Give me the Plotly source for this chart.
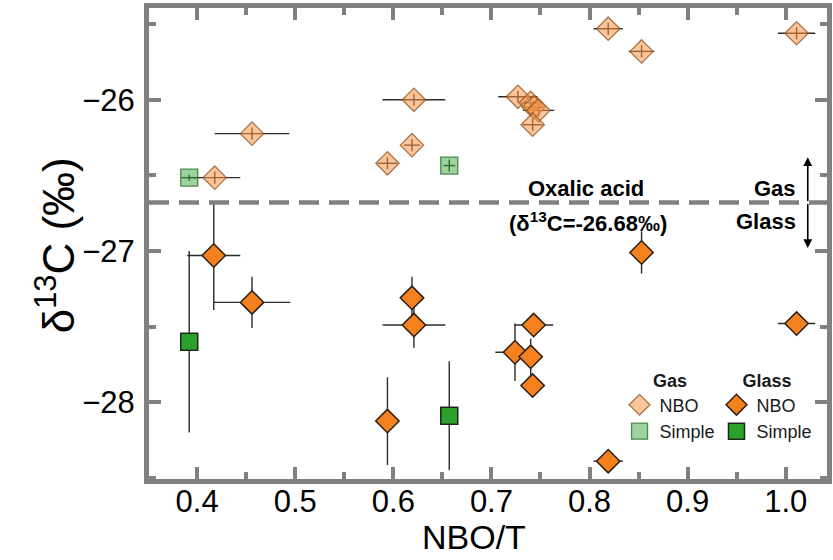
import plotly.graph_objects as go

# ---- data -------------------------------------------------------------
# Gas phase, NBO-based
gas_nbo_x = [0.418, 0.456, 0.621, 0.619, 0.594, 0.727, 0.740, 0.743, 0.748, 0.742, 0.819, 0.853, 1.011]
gas_nbo_y = [-26.515, -26.224, -26.00, -26.30, -26.42, -25.98, -26.02, -26.05, -26.07, -26.165, -25.53, -25.68, -25.56]
gas_nbo_xerr = [0.026, 0.038, 0.032, 0.008, 0.010, 0.020, 0.010, 0.010, 0.016, 0.010, 0.015, 0.013, 0.019]
gas_nbo_yerr = [0.04, 0.04, 0.04, 0.04, 0.04, 0.04, 0.04, 0.04, 0.04, 0.04, 0.04, 0.04, 0.04]

# Gas phase, simple composition
gas_simple_x = [0.392, 0.657]
gas_simple_y = [-26.515, -26.435]
gas_simple_xerr = [0.008, 0.006]
gas_simple_yerr = [0.02, 0.04]

# Glass, NBO-based
glass_nbo_x = [0.417, 0.456, 0.619, 0.621, 0.594, 0.853, 0.743, 0.724, 0.740, 0.742, 0.819, 1.011]
glass_nbo_y = [-27.03, -27.34, -27.31, -27.49, -28.125, -27.01, -27.49, -27.67, -27.70, -27.89, -28.39, -27.48]
glass_nbo_xerr = [0.027, 0.039, 0.010, 0.032, 0.010, 0.010, 0.020, 0.020, 0.010, 0.010, 0.015, 0.019]
glass_nbo_yerr = [0.36, 0.17, 0.14, 0.15, 0.29, 0.14, 0.06, 0.19, 0.12, 0.05, 0.04, 0.04]

# Glass, simple composition
glass_simple_x = [0.392, 0.657]
glass_simple_y = [-27.60, -28.09]
glass_simple_xerr = [0.003, 0.003]
glass_simple_yerr = [0.60, 0.36]

# Reference standard
OXALIC_D13C = -26.68

x_range = [0.351, 1.042]
y_range = [-28.508, -25.393]
x_ticks = [0.4, 0.5, 0.6, 0.7, 0.8, 0.9, 1.0]
y_ticks = [-28, -27, -26]

# ---- styles -------------------------------------------------------------
FONT = "Liberation Sans, Arial, Helvetica, sans-serif"
FRAME = "#808080"
ERR = "#2b2b2b"


def err(vals, thick=1.4):
    return dict(type="data", array=vals, visible=True, color=ERR, thickness=thick, width=0)


fig = go.Figure()

fig.add_trace(go.Scatter(
    x=gas_nbo_x, y=gas_nbo_y, mode="markers", name="NBO", legend="legend",
    error_x=err(gas_nbo_xerr), error_y=err(gas_nbo_yerr),
    marker=dict(symbol="diamond", size=18, color="rgba(248,150,70,0.55)",
                line=dict(color="rgba(140,80,30,0.75)", width=1.3)),
))
fig.add_trace(go.Scatter(
    x=gas_simple_x, y=gas_simple_y, mode="markers", name="Simple", legend="legend",
    error_x=err(gas_simple_xerr), error_y=err(gas_simple_yerr),
    marker=dict(symbol="square", size=17, color="rgba(60,170,60,0.5)",
                line=dict(color="rgba(40,100,40,0.75)", width=1.3)),
))
fig.add_trace(go.Scatter(
    x=glass_nbo_x, y=glass_nbo_y, mode="markers", name="NBO", legend="legend2",
    error_x=err(glass_nbo_xerr), error_y=err(glass_nbo_yerr),
    marker=dict(symbol="diamond", size=18, color="#f5801e",
                line=dict(color="#2a2016", width=1.5)),
))
fig.add_trace(go.Scatter(
    x=glass_simple_x, y=glass_simple_y, mode="markers", name="Simple", legend="legend2",
    error_x=err(glass_simple_xerr), error_y=err(glass_simple_yerr),
    marker=dict(symbol="square", size=17, color="#2ca02c",
                line=dict(color="#1a2a1a", width=1.5)),
))

# oxalic acid reference line
fig.add_shape(type="line", xref="paper", yref="y", x0=0, x1=1,
              y0=OXALIC_D13C, y1=OXALIC_D13C,
              line=dict(color=FRAME, width=4.5, dash="20px,10px"))

ann_font = dict(family=FONT, size=22, color="black")
fig.add_annotation(x=0.796, y=OXALIC_D13C, yshift=14, text="<b>Oxalic acid</b>",
                   showarrow=False, font=ann_font, xanchor="center", yanchor="middle")
fig.add_annotation(x=0.798, y=OXALIC_D13C, yshift=-19,
                   text="<b>(δ<sup>13</sup>C=-26.68‰)</b>",
                   showarrow=False, font=ann_font, xanchor="center", yanchor="middle")
fig.add_annotation(x=1.012, y=OXALIC_D13C, yshift=14, text="<b>Gas</b>",
                   showarrow=False, font=ann_font, xanchor="right", yanchor="middle")
fig.add_annotation(x=1.012, y=OXALIC_D13C, yshift=-19, text="<b>Glass</b>",
                   showarrow=False, font=ann_font, xanchor="right", yanchor="middle")

# Gas / Glass direction arrows
for head in (OXALIC_D13C + 0.30, OXALIC_D13C - 0.30):
    fig.add_annotation(x=1.0224, y=head, ax=1.0224, ay=OXALIC_D13C,
                       xref="x", yref="y", axref="x", ayref="y",
                       text="", showarrow=True, arrowhead=2, arrowsize=1.1,
                       arrowwidth=1.6, arrowcolor="black")

# axis titles
fig.add_annotation(xref="paper", yref="paper", x=-0.138, y=0.497,
                   xanchor="center", yanchor="middle",
                   text="δ<sup>13</sup>C (‰)", textangle=-90, showarrow=False,
                   font=dict(family=FONT, size=44, color="black"))
fig.add_annotation(xref="paper", yref="paper", x=0.48, y=-0.168, yanchor="bottom",
                   text="NBO/T", showarrow=False,
                   font=dict(family=FONT, size=34, color="black"))

axis_common = dict(
    showline=True, linecolor=FRAME, linewidth=5, mirror="allticks",
    ticks="inside", ticklen=12, tickwidth=4, tickcolor=FRAME,
    showgrid=False, zeroline=False, automargin=False,
    tickfont=dict(family=FONT, size=31, color="black"),
)

fig.update_xaxes(
    range=x_range, tickvals=x_ticks, tickformat=".1f", ticklabelstandoff=-9,
    minor=dict(ticks="inside", ticklen=7, tickwidth=4, tickcolor=FRAME, dtick=0.05, tick0=0.35),
    **axis_common,
)
fig.update_yaxes(
    range=y_range, tickvals=y_ticks, ticklabelstandoff=3,
    minor=dict(ticks="inside", ticklen=7, tickwidth=4, tickcolor=FRAME, dtick=0.5, tick0=-25.5),
    **axis_common,
)

legend_common = dict(
    bgcolor="rgba(0,0,0,0)", borderwidth=0,
    font=dict(family=FONT, size=18, color="#1a1a1a"),
    xanchor="left", yanchor="top", tracegroupgap=0, itemwidth=30,
)

fig.update_layout(
    width=833, height=560,
    margin=dict(l=149, r=6, t=8, b=81),
    plot_bgcolor="white", paper_bgcolor="white",
    font=dict(family=FONT, color="black"),
    showlegend=True,
    legend=dict(x=0.694, y=0.246,
                title=dict(text="<b>Gas</b>", side="top center",
                           font=dict(family=FONT, size=18, color="#1a1a1a")),
                **legend_common),
    legend2=dict(x=0.837, y=0.246,
                 title=dict(text="<b>Glass</b>", side="top center",
                            font=dict(family=FONT, size=18, color="#1a1a1a")),
                 **legend_common),
)

fig.write_html("out.html")
